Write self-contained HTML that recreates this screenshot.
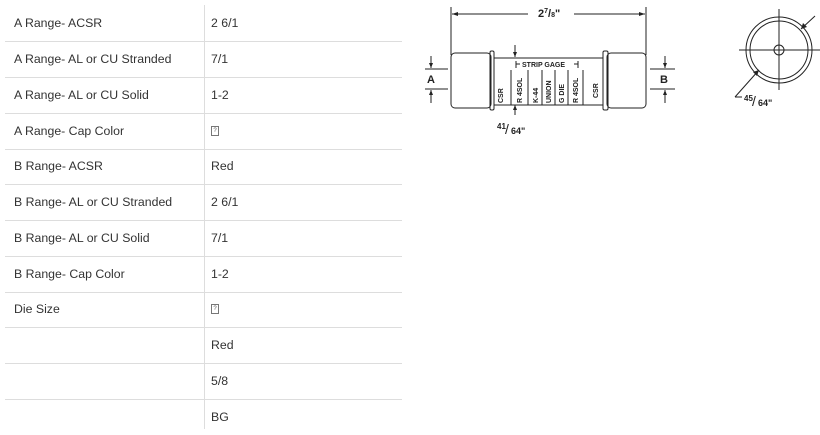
<!DOCTYPE html>
<html><head><meta charset="utf-8"><style>
body{margin:0;width:820px;height:429px;background:#fff;overflow:hidden;font-family:"Liberation Sans",sans-serif;}
.row{position:absolute;left:5px;width:397px;height:35.8px;border-bottom:1px solid #ddd;font-size:12.3px;color:#333;}
.row span{position:absolute;top:11px;white-space:nowrap}
.k{left:9px}.v{left:206px}
.vl{position:absolute;left:204px;top:5px;width:1px;height:424px;background:#ddd}
.box{position:absolute;left:206px;top:13px;width:6px;height:8px;border:1px solid #777;font-size:6px;line-height:8px;text-align:center;color:#555}
</style></head><body>
<div class="vl"></div>
<div class="row" style="top:5px"><span class="k">A Range- ACSR</span><span class="v">2 6/1</span></div>
<div class="row" style="top:41px"><span class="k">A Range- AL or CU Stranded</span><span class="v">7/1</span></div>
<div class="row" style="top:77px"><span class="k">A Range- AL or CU Solid</span><span class="v">1-2</span></div>
<div class="row" style="top:113px"><span class="k">A Range- Cap Color</span><div class="box">?</div></div>
<div class="row" style="top:148px"><span class="k">B Range- ACSR</span><span class="v">Red</span></div>
<div class="row" style="top:184px"><span class="k">B Range- AL or CU Stranded</span><span class="v">2 6/1</span></div>
<div class="row" style="top:220px"><span class="k">B Range- AL or CU Solid</span><span class="v">7/1</span></div>
<div class="row" style="top:256px"><span class="k">B Range- Cap Color</span><span class="v">1-2</span></div>
<div class="row" style="top:291px"><span class="k">Die Size</span><div class="box">?</div></div>
<div class="row" style="top:327px"><span class="v">Red</span></div>
<div class="row" style="top:363px"><span class="v">5/8</span></div>
<div class="row" style="top:399px;border-bottom:none"><span class="v">BG</span></div>
<svg width="820" height="429" style="position:absolute;left:0;top:0" font-family="Liberation Sans,sans-serif" font-weight="bold" fill="#222">
<g stroke="#222" stroke-width="1" fill="none">
<line x1="451" y1="7" x2="451" y2="55"/><line x1="646" y1="7" x2="646" y2="55"/>
<line x1="452" y1="14" x2="528" y2="14"/><line x1="574" y1="14" x2="645" y2="14"/>
<rect x="451" y="53" width="40" height="55" rx="4"/>
<rect x="490" y="51" width="4" height="59" rx="1.5"/>
<line x1="494" y1="58" x2="603" y2="58"/><line x1="494" y1="105" x2="603" y2="105"/>
<rect x="603" y="51" width="5" height="59" rx="1.5"/>
<rect x="607" y="53" width="39" height="55" rx="4"/>
<line x1="511" y1="70" x2="511" y2="105"/><line x1="528" y1="70" x2="528" y2="105"/><line x1="542" y1="70" x2="542" y2="105"/><line x1="555" y1="70" x2="555" y2="105"/><line x1="568" y1="70" x2="568" y2="105"/><line x1="583" y1="70" x2="583" y2="105"/>
<line x1="516" y1="61" x2="516" y2="68"/><line x1="516" y1="64" x2="520" y2="64"/><line x1="578" y1="61" x2="578" y2="68"/><line x1="574" y1="64" x2="578" y2="64"/>
<line x1="515" y1="45" x2="515" y2="57"/><line x1="515" y1="105" x2="515" y2="115"/>
<line x1="425" y1="69" x2="448" y2="69"/><line x1="425" y1="89" x2="448" y2="89"/>
<line x1="431" y1="56" x2="431" y2="68"/><line x1="431" y1="90" x2="431" y2="103"/>
<line x1="650" y1="69" x2="675" y2="69"/><line x1="650" y1="89" x2="675" y2="89"/>
<line x1="665" y1="56" x2="665" y2="68"/><line x1="665" y1="90" x2="665" y2="103"/>
<circle cx="779" cy="50" r="33"/><circle cx="779" cy="50" r="29"/><circle cx="779" cy="50" r="5"/>
<line x1="739" y1="50" x2="820" y2="50"/><line x1="779" y1="9" x2="779" y2="90"/>
<line x1="815" y1="16" x2="801" y2="29"/><line x1="759" y1="70" x2="735" y2="97"/><line x1="735" y1="97" x2="742" y2="97"/>
</g>
<g stroke="none">
<polygon points="452,14 458,12 458,16"/><polygon points="645,14 639,12 639,16"/>
<polygon points="515,57 513,52 517,52"/><polygon points="515,105 513,110 517,110"/>
<polygon points="431,68 429,63 433,63"/><polygon points="431,90 429,95 433,95"/>
<polygon points="665,68 663,63 667,63"/><polygon points="665,90 663,95 667,95"/>
<polygon points="801,29 803,23 807,27"/><polygon points="759,70 753,72 757,76"/>
</g>
<text x="538" y="17" font-size="11">2<tspan font-size="7" dy="-4">7</tspan><tspan dy="4">/</tspan><tspan font-size="7">8</tspan>"</text>
<text x="427" y="83" font-size="11">A</text><text x="660" y="83" font-size="11">B</text>
<text x="522" y="67" font-size="7">STRIP GAGE</text>
<g font-size="7">
<text transform="translate(503,103) rotate(-90)">CSR</text>
<text transform="translate(522,103) rotate(-90)">R 4SOL</text>
<text transform="translate(538,103) rotate(-90)">K-44</text>
<text transform="translate(551,103) rotate(-90)">UNION</text>
<text transform="translate(564,103) rotate(-90)">G DIE</text>
<text transform="translate(578,103) rotate(-90)">R 4SOL</text>
<text transform="translate(598,98) rotate(-90)">CSR</text>
</g>
<text x="497" y="129" font-size="8">41</text><text x="505" y="134" font-size="14" font-weight="normal">/</text><text x="511" y="134" font-size="9">64"</text>
<text x="744" y="101" font-size="8">45</text><text x="752" y="106" font-size="14" font-weight="normal">/</text><text x="758" y="106" font-size="9">64"</text>
</svg>
</body></html>
